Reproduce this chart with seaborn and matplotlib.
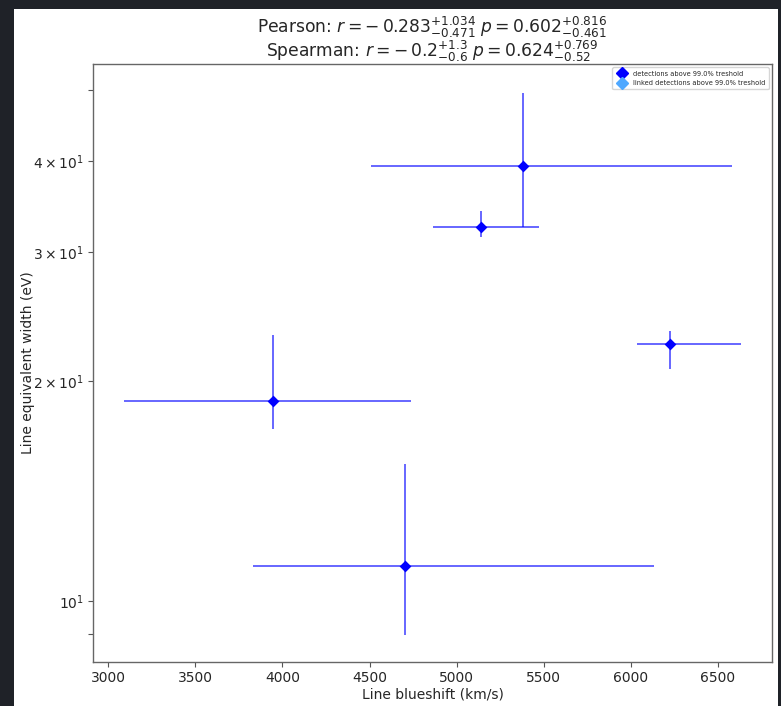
import numpy as np
import pandas as pd
import seaborn as sns
import matplotlib
matplotlib.use("Agg")
import matplotlib.pyplot as plt
from matplotlib.patches import Rectangle

# Line detections: blueshift (km/s) and equivalent width (eV) with asymmetric errors
blueshift = [5379, 5138, 3945, 6226, 4706]
blueshift_err_lo = [869, 271, 856, 191, 875]
blueshift_err_hi = [1203, 333, 794, 408, 1427]
eqw = [39.4, 32.5, 18.8, 22.5, 11.16]
eqw_err_lo = [6.9, 1.0, 1.6, 1.7, 2.17]
eqw_err_hi = [10.2, 1.7, 4.3, 0.9, 4.24]

labels = ["detections above 99.0% treshold", "linked detections above 99.0% treshold"]
title_text = ("Pearson: $r=-\\,0.283^{+1.034}_{-0.471}$ $p=0.602^{+0.816}_{-0.461}$\n"
              "Spearman: $r=-\\,0.2^{+1.3}_{-0.6}$ $p=0.624^{+0.769}_{-0.52}$")

df = pd.DataFrame({"v": blueshift, "ew": eqw})

sns.set_theme(style="ticks")
plt.rcParams["font.family"] = ["DejaVu Sans"]

fig = plt.figure(figsize=(7.81, 7.06), dpi=100, facecolor="#1f2228")
fig.patches.append(Rectangle((14 / 781, 0), 764 / 781, 697 / 706,
                             transform=fig.transFigure, facecolor="white",
                             edgecolor="none", zorder=-10))
ax = fig.add_axes([93 / 781, 1 - 662 / 706, (772 - 93) / 781, (662 - 64) / 706])
ax.set_facecolor("white")

ax.errorbar(blueshift, eqw,
            xerr=[blueshift_err_lo, blueshift_err_hi],
            yerr=[eqw_err_lo, eqw_err_hi],
            fmt="none", ecolor="blue", alpha=0.6, elinewidth=1.4, zorder=2)
sns.scatterplot(data=df, x="v", y="ew", marker="D", color="blue", s=36,
                edgecolor="blue", linewidth=0, ax=ax, zorder=3)

# legend handles
h1 = ax.errorbar([np.nan], [np.nan], yerr=[[1], [1]], fmt="D", color="blue",
                 ms=6, label=labels[0])
h2 = ax.errorbar([np.nan], [np.nan], yerr=[[1], [1]], fmt="D", color="#4fa8ff",
                 ms=6, label=labels[1])

ax.set_yscale("log")
ax.set_xlim(2912, 6811)
ax.set_ylim(8.25, 54.3)
ax.set_xticks([3000, 3500, 4000, 4500, 5000, 5500, 6000, 6500])

ax.set_xlabel("Line blueshift (km/s)", fontsize=10, labelpad=1.5)
ax.set_ylabel("Line equivalent width (eV)", fontsize=10)
ax.yaxis.set_label_coords(-0.085, 0.5)
ax.tick_params(axis="both", which="both", labelsize=10, length=3.5,
               color="#555555", width=0.8, pad=3)
for s in ax.spines.values():
    s.set_color("#666666")
    s.set_linewidth(1.0)

ax.set_title(title_text, fontsize=12.3, pad=4, linespacing=0.95)
leg = ax.legend(handles=[h1, h2], loc="upper right", fontsize=4.8,
                frameon=True, borderpad=0.5, handlelength=2.0,
                handletextpad=0.6)
leg.get_frame().set_edgecolor("#cccccc")

fig.savefig("out.png", dpi=100, facecolor=fig.get_facecolor())
